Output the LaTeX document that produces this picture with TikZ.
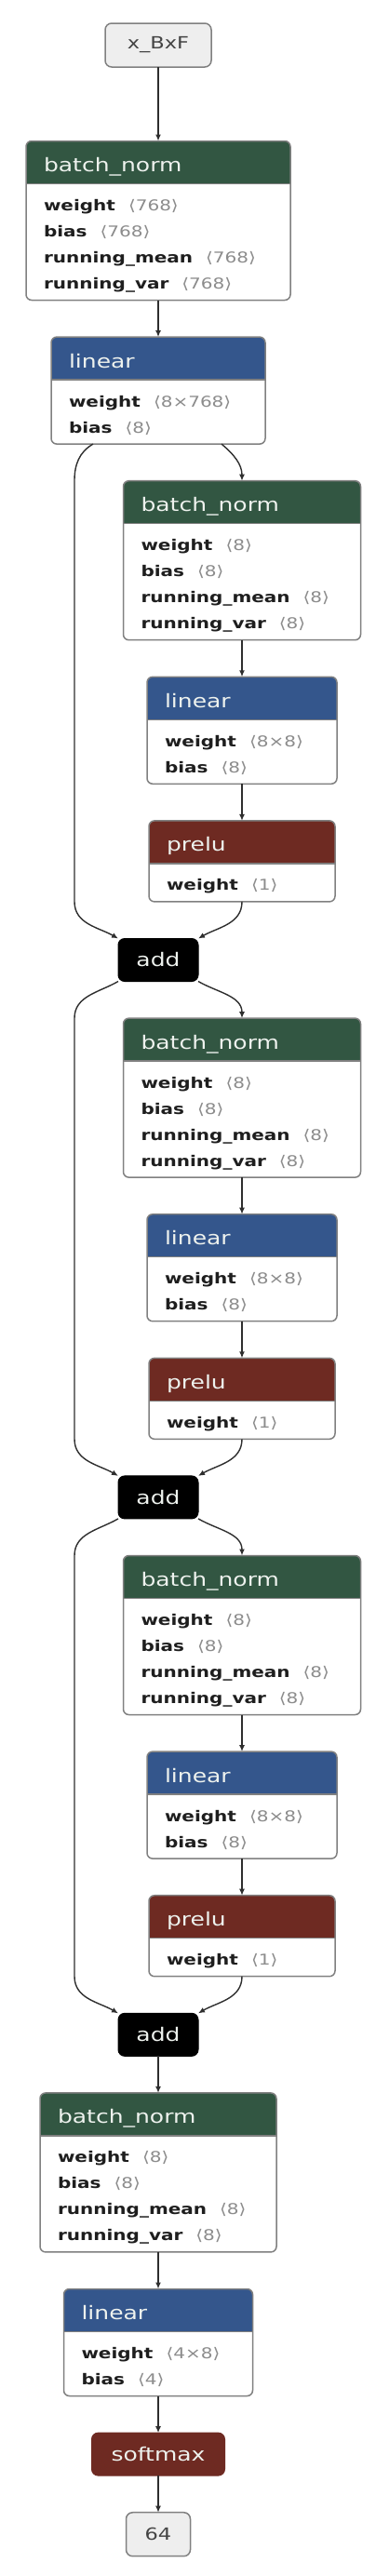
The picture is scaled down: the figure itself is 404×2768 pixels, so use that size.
\documentclass[tikz,border=0pt]{standalone}
\usepackage{fontspec}
\setmainfont{DejaVu Sans}[FakeStretch=1.25]
\usepackage{tikz}
\usetikzlibrary{arrows.meta,positioning}

\definecolor{bnhead}{HTML}{325642}
\definecolor{linhead}{HTML}{34568C}
\definecolor{prhead}{HTML}{6E2A22}
\definecolor{boxline}{HTML}{808080}
\definecolor{iofill}{HTML}{EEEEEE}
\definecolor{iotext}{HTML}{444444}
\definecolor{hdtext}{HTML}{EEF2EE}
\definecolor{dimtext}{HTML}{8C8C8C}
\definecolor{bodytext}{HTML}{1E1E1E}
\definecolor{edgecol}{HTML}{2E2E2E}

% one header row and one parameter row of a layer box
\newcommand{\hdrow}[1]{\hbox to\hsize{\hskip19pt\rule[-13pt]{0pt}{46pt}{\fontsize{20pt}{20pt}\selectfont\color{hdtext}#1}\hfil}}
\newcommand{\prow}[2]{\hbox to\hsize{\hskip19pt\rule[-7pt]{0pt}{28pt}\textbf{#1}\hskip14pt{\color{dimtext}⟨#2⟩}\hfil}}
\newcommand{\layerbody}[3]{\vbox{\hsize=#1\offinterlineskip\hdrow{#2}\kern8pt#3\kern5pt}}

\begin{document}
\begin{tikzpicture}[
            node distance=39.6pt,
            layer/.style={draw=boxline, line width=1.5pt, fill=white, rounded corners=6pt,
            inner sep=0pt, outer sep=0pt, font=\fontsize{16pt}{28pt}\selectfont, text=bodytext,
            path picture={
              \fill[#1, sharp corners] (path picture bounding box.north west)
                rectangle ([yshift=-46pt]path picture bounding box.north east);
              \draw[boxline, line width=1.5pt, sharp corners]
                ([yshift=-46pt]path picture bounding box.north west)
                -- ([yshift=-46pt]path picture bounding box.north east);}},
            opbox/.style 2 args={draw=#1, fill=#1, line width=1pt, rounded corners=7pt,
            inner sep=0pt, outer sep=0pt, minimum width=#2, minimum height=46pt, text=hdtext,
            font=\fontsize{20pt}{20pt}\selectfont},
            iobox/.style={draw=boxline, line width=1.5pt, fill=iofill, rounded corners=7pt,
            inner sep=0pt, outer sep=0pt, minimum width=#1, minimum height=47pt, text=iotext,
            font=\fontsize{18pt}{18pt}\selectfont},
            ar/.style={-{Latex[length=7pt,width=6pt]}, line width=1.4pt, draw=edgecol}
        ]
\useasboundingbox (0,0) rectangle (404pt,-2768pt);
\coordinate (skipcol) at (80pt,0);
% input and first layers
            \node[iobox=114pt] (inp) at (170pt,-48.5pt) {x\_BxF};
            \node[layer=bnhead, below=79.5pt of inp] (bn1) {\layerbody{284pt}{batch\_norm}{\prow{weight}{768}\prow{bias}{768}\prow{running\_mean}{768}\prow{running\_var}{768}}};
            \node[layer=linhead, below=of bn1] (lin1) {\layerbody{230pt}{linear}{\prow{weight}{8×768}\prow{bias}{8}}};
% residual block 1
            \node[layer=bnhead, below=of lin1, xshift=90pt] (bn2) {\layerbody{255pt}{batch\_norm}{\prow{weight}{8}\prow{bias}{8}\prow{running\_mean}{8}\prow{running\_var}{8}}};
            \node[layer=linhead, below=of bn2] (lin2) {\layerbody{204pt}{linear}{\prow{weight}{8×8}\prow{bias}{8}}};
            \node[layer=prhead, below=of lin2] (pr1) {\layerbody{200pt}{prelu}{\prow{weight}{1}}};
            \node[opbox={black}{86pt}, below=of pr1, xshift=-90pt] (add1) {add};
% residual block 2
            \node[layer=bnhead, below=of add1, xshift=90pt] (bn3) {\layerbody{255pt}{batch\_norm}{\prow{weight}{8}\prow{bias}{8}\prow{running\_mean}{8}\prow{running\_var}{8}}};
            \node[layer=linhead, below=of bn3] (lin3) {\layerbody{204pt}{linear}{\prow{weight}{8×8}\prow{bias}{8}}};
            \node[layer=prhead, below=of lin3] (pr2) {\layerbody{200pt}{prelu}{\prow{weight}{1}}};
            \node[opbox={black}{86pt}, below=of pr2, xshift=-90pt] (add2) {add};
% residual block 3
            \node[layer=bnhead, below=of add2, xshift=90pt] (bn4) {\layerbody{255pt}{batch\_norm}{\prow{weight}{8}\prow{bias}{8}\prow{running\_mean}{8}\prow{running\_var}{8}}};
            \node[layer=linhead, below=of bn4] (lin4) {\layerbody{204pt}{linear}{\prow{weight}{8×8}\prow{bias}{8}}};
            \node[layer=prhead, below=of lin4] (pr3) {\layerbody{200pt}{prelu}{\prow{weight}{1}}};
            \node[opbox={black}{86pt}, below=of pr3, xshift=-90pt] (add3) {add};
% output head
            \node[layer=bnhead, below=of add3] (bn5) {\layerbody{254pt}{batch\_norm}{\prow{weight}{8}\prow{bias}{8}\prow{running\_mean}{8}\prow{running\_var}{8}}};
            \node[layer=linhead, below=of bn5] (lin5) {\layerbody{203pt}{linear}{\prow{weight}{4×8}\prow{bias}{4}}};
            \node[opbox={prhead}{143pt}, below=of lin5] (sm) {softmax};
            \node[iobox=69pt, below=of sm] (outp) {64};

            \draw[ar] (inp) -- (bn1);
            \draw[ar] (bn1) -- (lin1);
            \draw[ar] ([xshift=68pt]lin1.south) to[out=-40,in=90] (bn2.north);
            \draw[ar] ([xshift=-70pt]lin1.south) to[out=-150,in=90] (skipcol |- bn2.north)
                      -- (skipcol |- pr1.south) to[out=-90,in=150] (add1.north west);
            \draw[ar] (bn2) -- (lin2);
            \draw[ar] (lin2) -- (pr1);
            \draw[ar] (pr1.south) to[out=-90,in=30] (add1.north east);
            \draw[ar] (add1.south east) to[out=-30,in=90] (bn3.north);
            \draw[ar] (add1.south west) to[out=-150,in=90] (skipcol |- bn3.north)
                      -- (skipcol |- pr2.south) to[out=-90,in=150] (add2.north west);
            \draw[ar] (bn3) -- (lin3);
            \draw[ar] (lin3) -- (pr2);
            \draw[ar] (pr2.south) to[out=-90,in=30] (add2.north east);
            \draw[ar] (add2.south east) to[out=-30,in=90] (bn4.north);
            \draw[ar] (add2.south west) to[out=-150,in=90] (skipcol |- bn4.north)
                      -- (skipcol |- pr3.south) to[out=-90,in=150] (add3.north west);
            \draw[ar] (bn4) -- (lin4);
            \draw[ar] (lin4) -- (pr3);
            \draw[ar] (pr3.south) to[out=-90,in=30] (add3.north east);
            \draw[ar] (add3) -- (bn5);
            \draw[ar] (bn5) -- (lin5);
            \draw[ar] (lin5) -- (sm);
            \draw[ar] (sm) -- (outp);
        \end{tikzpicture}
\end{document}
